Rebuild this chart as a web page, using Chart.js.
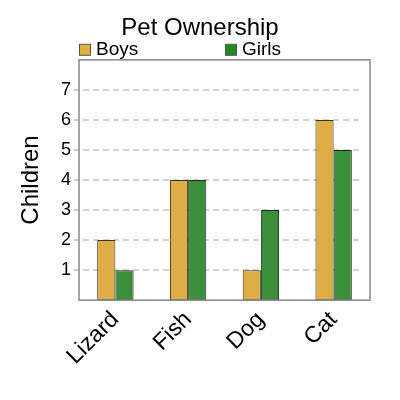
<!DOCTYPE html>
<html>
<head>
<meta charset="utf-8">
<script src="https://cdn.jsdelivr.net/npm/chart.js@4"></script>
<style>
  html, body { margin: 0; padding: 0; background: #fff; }
  #wrap { width: 400px; height: 400px; }
</style>
</head>
<body>
<div id="wrap"><canvas id="petChart" width="400" height="400"></canvas></div>
<script>
const categories = ['Lizard', 'Fish', 'Dog', 'Cat'];
const seriesNames = ['Boys', 'Girls'];
const boys = [2, 4, 1, 6];
const girls = [1, 4, 3, 5];
const gridValues = [1, 2, 3, 4, 5, 6, 7];

const FONT = "'Liberation Sans', Arial, sans-serif";
const barColors = ['#ddae46', '#3b8e3b'];
const legendColors = ['#e0b040', '#1e8c1e'];

// Frame around the plot, inset dashed grid lines and the legend
const framePlugin = {
    id: 'frame',
    beforeDatasetsDraw(chart) {
        const { ctx, chartArea, scales } = chart;
        ctx.save();
        ctx.strokeStyle = '#c4c4c4';
        ctx.lineWidth = 1.5;
        ctx.setLineDash([6, 4]);
        gridValues.forEach(v => {
            const y = Math.round(scales.y.getPixelForValue(v));
            ctx.beginPath();
            ctx.moveTo(chartArea.left + 4, y);
            ctx.lineTo(chartArea.right - 10, y);
            ctx.stroke();
        });
        ctx.setLineDash([]);
        ctx.strokeStyle = '#999';
        ctx.lineWidth = 1;
        gridValues.forEach(v => {
            const y = Math.round(scales.y.getPixelForValue(v));
            ctx.beginPath();
            ctx.moveTo(chartArea.left - 5, y);
            ctx.lineTo(chartArea.left, y);
            ctx.stroke();
        });
        ctx.restore();
    },
    afterDraw(chart) {
        const { ctx, chartArea } = chart;
        ctx.save();
        ctx.strokeStyle = '#888';
        ctx.lineWidth = 1.5;
        ctx.strokeRect(chartArea.left, chartArea.top, chartArea.right - chartArea.left, chartArea.bottom - chartArea.top);
        // legend: two entries spread across the top of the plot
        ctx.font = '19px ' + FONT;
        ctx.textBaseline = 'alphabetic';
        const legendX = [chartArea.left, chartArea.left + 146];
        seriesNames.forEach((name, i) => {
            const x = legendX[i];
            const boxTop = chartArea.top - 16;
            ctx.fillStyle = legendColors[i];
            ctx.fillRect(x + 0.5, boxTop + 0.5, 11, 11);
            ctx.strokeStyle = '#555';
            ctx.lineWidth = 1;
            ctx.strokeRect(x + 0.5, boxTop + 0.5, 11, 11);
            ctx.fillStyle = '#000';
            ctx.fillText(name, x + 17, chartArea.top - 5);
        });
        ctx.restore();
    }
};

new Chart(document.getElementById('petChart'), {
    type: 'bar',
    data: {
        labels: categories,
        datasets: [{
            label: seriesNames[0],
            data: boys,
            backgroundColor: barColors[0],
            borderColor: '#3a3322',
            borderWidth: 1,
            borderSkipped: false,
            barPercentage: 1.0,
            categoryPercentage: 0.5
        }, {
            label: seriesNames[1],
            data: girls,
            backgroundColor: barColors[1],
            borderColor: '#1e2e1e',
            borderWidth: 1,
            borderSkipped: false,
            barPercentage: 1.0,
            categoryPercentage: 0.5
        }]
    },
    options: {
        responsive: false,
        animation: false,
        layout: {
            padding: { left: 4, right: 4, top: 0, bottom: 24 }
        },
        scales: {
            x: {
                grid: { display: false, drawTicks: false },
                border: { display: false },
                ticks: {
                    color: '#000',
                    font: { family: FONT, size: 23 },
                    minRotation: 45,
                    maxRotation: 45,
                    padding: 6
                }
            },
            y: {
                min: 0,
                max: 8,
                grid: { display: false, drawTicks: false },
                border: { display: false },
                ticks: {
                    stepSize: 1,
                    color: '#000',
                    font: { family: FONT, size: 18 },
                    padding: 8,
                    callback: v => (v >= 1 && v <= 7) ? v : ''
                },
                title: {
                    display: true,
                    text: 'Children',
                    color: '#000',
                    font: { family: FONT, size: 24 },
                    padding: { top: 13, bottom: 10 }
                },
                afterFit: scale => { scale.width = 75; }
            },
            // empty right-hand axis that only reserves the right margin
            yRight: {
                position: 'right',
                min: 0,
                max: 8,
                grid: { display: false, drawTicks: false },
                border: { display: false },
                ticks: { display: false },
                afterFit: scale => { scale.width = 26; }
            }
        },
        plugins: {
            title: {
                display: true,
                text: 'Pet Ownership',
                color: '#000',
                font: { family: FONT, size: 24, weight: 'normal' },
                padding: { top: 14, bottom: 17 }
            },
            legend: { display: false },
            tooltip: { enabled: false }
        }
    },
    plugins: [framePlugin]
});
</script>
</body>
</html>
